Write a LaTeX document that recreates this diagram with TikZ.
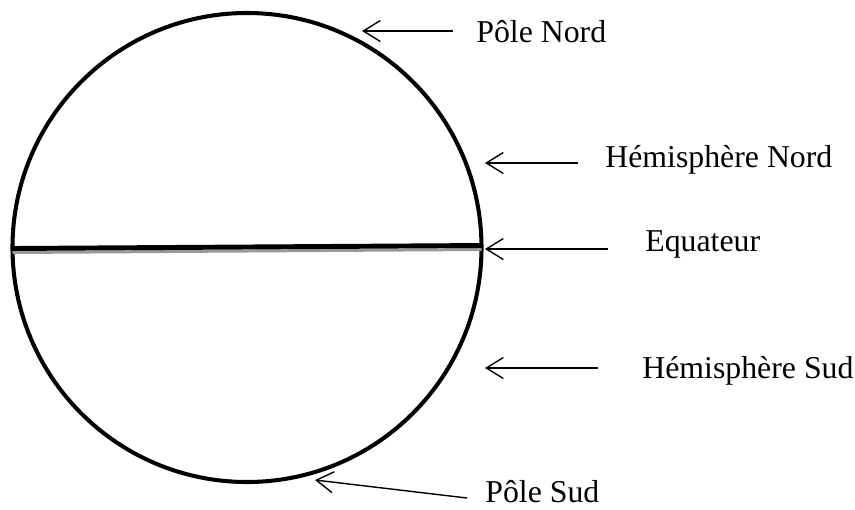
\documentclass[tikz,border=0pt]{standalone}
\usepackage{fontspec}
\setmainfont{Liberation Serif}
\usetikzlibrary{arrows.meta}

\begin{document}
\begin{tikzpicture}[
  globeline/.style={line width=2.3pt, black},
  pointer/.style={line width=0.8pt, -{Straight Barb[length=0.34cm, width=0.42cm]}},
  partlabel/.style={font=\fontsize{18.1}{21}\selectfont, anchor=base west, inner sep=0pt},
]

%% ── frame: origin = centre of the globe ─────────────────
\useasboundingbox (-4.94,-5.23) rectangle (12.16,4.95);

%% ── globe ───────────────────────────────────────────────
\def\R{4.69}      % radius
\node[draw, globeline, circle, minimum size=2*\R cm, inner sep=0pt] (globe) at (0,0) {};

%% ── equator (black line with a grey edge below) ─────────
\coordinate (eqW) at (-\R,-0.02);
\coordinate (eqE) at (\R,0.04);
\draw[line width=1.7pt, black!40] ([yshift=-0.08cm]eqW) -- ([yshift=-0.08cm]eqE);
\draw[line width=2.8pt] (eqW) -- (eqE);

%% ── arrow ends: tip near the globe, tail near the text ──
\coordinate (pnTip) at (2.30,4.33);   \coordinate (pnTail) at (4.12,4.33);
\coordinate (hnTip) at (4.76,1.69);   \coordinate (hnTail) at (6.62,1.69);
\coordinate (eqTip) at (4.76,-0.03);  \coordinate (eqTail) at (7.22,-0.03);
\coordinate (hsTip) at (4.76,-2.41);  \coordinate (hsTail) at (7.02,-2.41);
\coordinate (psTip) at (1.36,-4.65);  \coordinate (psTail) at (4.40,-5.01);

%% ── labels ──────────────────────────────────────────────
\node[partlabel] (pn) at (4.58,4.11)  {Pôle Nord};
\node[partlabel] (hn) at (7.16,1.61)  {Hémisphère Nord};
\node[partlabel] (eq) at (7.96,-0.07) {Equateur};
\node[partlabel] (hs) at (7.90,-2.61) {Hémisphère Sud};
\node[partlabel] (ps) at (4.76,-5.10) {Pôle Sud};

%% ── pointers ────────────────────────────────────────────
\foreach \p in {pn,hn,eq,hs,ps}
  \draw[pointer] (\p Tail) -- (\p Tip);

\end{tikzpicture}
\end{document}
